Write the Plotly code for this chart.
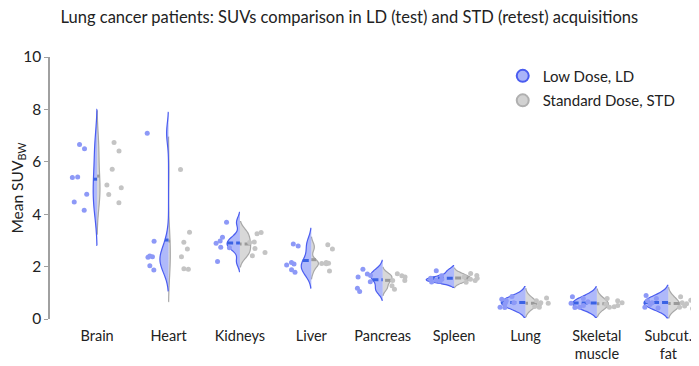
import plotly.graph_objects as go

organs = ["Brain", "Heart", "Kidneys", "Liver", "Pancreas", "Spleen", "Lung",
          "Skeletal<br>muscle", "Subcut.<br>fat"]

ld_brain = [6.66, 6.50, 5.42, 5.40, 4.76, 4.47, 4.15]
ld_heart = [7.09, 2.97, 2.40, 2.38, 2.36, 2.03, 1.87]
ld_kidneys = [3.69, 3.12, 2.98, 2.89, 2.74, 2.72, 2.19]
ld_liver = [2.86, 2.79, 2.16, 2.10, 2.06, 1.88, 1.78]
ld_pancreas = [1.90, 1.72, 1.66, 1.60, 1.42, 1.17, 1.05]
ld_spleen = [1.84, 1.65, 1.56, 1.52, 1.48, 1.45, 1.41]
ld_lung = [0.86, 0.75, 0.70, 0.62, 0.58, 0.45, 0.44]
ld_muscle = [0.85, 0.78, 0.66, 0.60, 0.52, 0.45, 0.44]
ld_fat = [0.90, 0.78, 0.70, 0.62, 0.55, 0.45, 0.42]

std_brain = [6.74, 6.41, 5.72, 5.11, 5.01, 4.75, 4.44]
std_heart = [5.71, 3.31, 2.93, 2.67, 2.38, 1.92, 1.90]
std_kidneys = [3.30, 3.25, 2.94, 2.92, 2.69, 2.54, 2.41]
std_liver = [2.83, 2.67, 2.16, 2.13, 2.12, 2.11, 1.83]
std_pancreas = [1.73, 1.65, 1.60, 1.47, 1.47, 1.27, 1.14]
std_spleen = [1.74, 1.66, 1.60, 1.56, 1.52, 1.47, 1.40]
std_lung = [0.80, 0.70, 0.62, 0.60, 0.55, 0.48, 0.45]
std_muscle = [0.78, 0.70, 0.62, 0.56, 0.52, 0.47, 0.45]
std_fat = [0.85, 0.72, 0.62, 0.58, 0.50, 0.45, 0.40]

ld_series = [ld_brain, ld_heart, ld_kidneys, ld_liver, ld_pancreas, ld_spleen,
             ld_lung, ld_muscle, ld_fat]
std_series = [std_brain, std_heart, std_kidneys, std_liver, std_pancreas, std_spleen,
              std_lung, std_muscle, std_fat]

# style: violin width (category units) and KDE bandwidth per organ
ld_width = [0.11, 0.24, 0.36, 0.28, 0.34, 0.78, 0.68, 0.68, 0.68]
std_width = [0.08, 0.05, 0.30, 0.20, 0.26, 0.45, 0.32, 0.32, 0.32]
ld_bw = [0.67, 0.40, 0.19, 0.30, 0.17, 0.10, 0.19, 0.19, 0.19]
std_bw = [0.60, 0.62, 0.21, 0.15, 0.12, 0.10, 0.18, 0.18, 0.18]

LD_LINE, LD_FILL, LD_MEAN, LD_PT = "#4a5cf0", "rgba(110,128,245,0.55)", "#3a62e4", "#8d99f7"
STD_LINE, STD_FILL, STD_MEAN, STD_PT = "#a8a8a8", "rgba(190,190,190,0.6)", "#9a9a9a", "#c4c4c4"


def flatten(series):
    xs, ys = [], []
    for organ, vals in zip(organs, series):
        xs += [organ] * len(vals)
        ys += list(vals)
    return xs, ys


FONT = "Lato"
fig = go.Figure()

# split violins, each side scaled on its own
for i, organ in enumerate(organs):
    sd, ld = std_series[i], ld_series[i]
    fig.add_trace(go.Violin(
        x=[organ] * len(sd), y=sd, side="positive", scalegroup="std" + organ,
        scalemode="width", width=std_width[i], bandwidth=std_bw[i], points=False,
        line=dict(color=STD_LINE, width=1.2), fillcolor=STD_FILL,
        meanline=dict(visible=True, color=STD_MEAN, width=3),
        showlegend=False, hoverinfo="skip"))
    fig.add_trace(go.Violin(
        x=[organ] * len(ld), y=ld, side="negative", scalegroup="ld" + organ,
        scalemode="width", width=ld_width[i], bandwidth=ld_bw[i], points=False,
        line=dict(color=LD_LINE, width=1.2), fillcolor=LD_FILL,
        meanline=dict(visible=True, color=LD_MEAN, width=3),
        showlegend=False, hoverinfo="skip"))

# raw points beside the violins
x_ld, y_ld = flatten(ld_series)
x_std, y_std = flatten(std_series)
for xs, ys, pos, col in [(x_ld, y_ld, -0.78, LD_PT), (x_std, y_std, 0.78, STD_PT)]:
    fig.add_trace(go.Violin(
        x=xs, y=ys, side="negative" if pos < 0 else "positive", width=0.62,
        points="all", pointpos=pos, jitter=0.4, scalegroup="pts" + col,
        marker=dict(color=col, size=5), line=dict(width=0, color="rgba(0,0,0,0)"),
        fillcolor="rgba(0,0,0,0)", meanline=dict(visible=False),
        showlegend=False, hoverinfo="skip"))

fig.add_trace(go.Scatter(x=[None], y=[None], mode="markers", name="Low Dose, LD",
                         legendgroup="ld",
                         marker=dict(color="#aab4f8", size=8,
                                     line=dict(color=LD_LINE, width=1.5))))
fig.add_trace(go.Scatter(x=[None], y=[None], mode="markers", name="Standard Dose, STD",
                         legendgroup="std",
                         marker=dict(color="#d2d2d2", size=8,
                                     line=dict(color="#b0b0b0", width=1.5))))

# the page body has an 8px margin, so the figure is offset by 8px
fig.update_layout(
    width=691, height=358,
    margin=dict(l=42, r=5, t=49, b=47),
    paper_bgcolor="white", plot_bgcolor="white",
    font=dict(family=FONT, size=14, color="#222"),
    title=dict(text="Lung cancer patients: SUVs comparison in LD (test) and STD (retest) acquisitions",
               x=0.494, xanchor="center", y=0.99, yanchor="top",
               font=dict(family=FONT, size=16.5, color="#222")),
    violinmode="overlay", violingap=0, violingroupgap=0,
    legend=dict(x=0.703, y=0.99, xanchor="left", yanchor="top",
                bgcolor="rgba(0,0,0,0)", font=dict(size=15), tracegroupgap=2,
                itemsizing="constant"),
    xaxis=dict(type="category", categoryorder="array", categoryarray=organs,
               range=[-0.66, 8.36], showline=False, showgrid=False, ticks="",
               tickfont=dict(size=14.5), zeroline=False, automargin=False,
               ticklabelstandoff=6),
    yaxis=dict(range=[0, 10], dtick=2, showgrid=False, zeroline=False,
               showline=True, linecolor="#a0a0a0", linewidth=1.5,
               ticks="outside", ticklen=4, tickcolor="#a0a0a0",
               tickfont=dict(size=15.5), automargin=False,
               title=dict(text="Mean SUV<sub>BW</sub>", font=dict(size=15.5), standoff=4)),
)

fig.write_html("out.html")
